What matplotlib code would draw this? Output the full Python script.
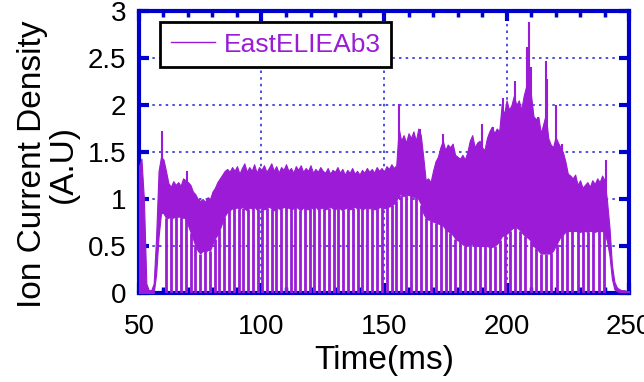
import matplotlib
matplotlib.use("Agg")
import matplotlib.pyplot as plt
import numpy as np
from matplotlib.lines import Line2D
from matplotlib.ticker import MultipleLocator

plt.rcParams['font.family'] = ['Liberation Sans', 'DejaVu Sans']

# sampled band of the probe signal, 1 ms steps from 50 to 250 ms
t_band = np.arange(50, 251)
band_hi = [
    1.35, 1.43, 1.00, 0.10, 0.03, 0.03, 0.10, 0.60, 1.30, 1.45,  # 50
    1.42, 1.30, 1.17, 1.13, 1.19, 1.15, 1.18, 1.14, 1.22, 1.20,  # 60
    1.18, 1.15, 1.08, 1.05, 1.00, 0.98, 1.00, 0.97, 1.02, 1.00,  # 70
    1.08, 1.12, 1.18, 1.22, 1.26, 1.30, 1.32, 1.29, 1.34, 1.30,  # 80
    1.35, 1.27, 1.33, 1.38, 1.29, 1.34, 1.30, 1.37, 1.28, 1.34,  # 90
    1.31, 1.36, 1.29, 1.33, 1.38, 1.30, 1.35, 1.28, 1.34, 1.31,  # 100
    1.37, 1.30, 1.33, 1.28, 1.35, 1.31, 1.36, 1.29, 1.33, 1.30,  # 110
    1.36, 1.28, 1.32, 1.29, 1.34, 1.30, 1.28, 1.33, 1.27, 1.31,  # 120
    1.29, 1.34, 1.28, 1.32, 1.26, 1.31, 1.28, 1.33, 1.27, 1.30,  # 130
    1.26, 1.31, 1.28, 1.33, 1.29, 1.32, 1.28, 1.34, 1.30, 1.33,  # 140
    1.29, 1.35, 1.32, 1.37, 1.33, 1.36, 1.75, 1.62, 1.68, 1.60,  # 150
    1.70, 1.65, 1.72, 1.62, 1.75, 1.68, 1.45, 1.20, 1.22, 1.18,  # 160
    1.30, 1.40, 1.45, 1.55, 1.62, 1.52, 1.58, 1.55, 1.59, 1.47,  # 170
    1.45, 1.43, 1.47, 1.42, 1.50, 1.62, 1.68, 1.55, 1.60, 1.62,  # 180
    1.55, 1.52, 1.65, 1.72, 1.77, 1.70, 1.75, 1.72, 2.00, 1.90,  # 190
    2.05, 1.95, 2.00, 2.10, 2.00, 2.05, 1.95, 2.10, 2.20, 2.35,  # 200
    2.10, 1.88, 1.85, 1.87, 1.70, 1.80, 1.90, 1.65, 1.58, 1.55,  # 210
    1.66, 1.60, 1.55, 1.50, 1.40, 1.27, 1.25, 1.22, 1.26, 1.15,  # 220
    1.20, 1.12, 1.15, 1.18, 1.13, 1.20, 1.16, 1.22, 1.18, 1.25,  # 230
    1.20, 0.98, 0.70, 0.30, 0.12, 0.06, 0.04, 0.03, 0.03, 0.02,  # 240
    0.02,
]
band_lo = [
    0.00, 0.00, 0.00, 0.00, 0.00, 0.00, 0.00, 0.20, 0.60, 0.85,
    0.85, 0.80, 0.80, 0.82, 0.80, 0.83, 0.81, 0.82, 0.80, 0.80,
    0.72, 0.65, 0.58, 0.50, 0.45, 0.42, 0.45, 0.43, 0.46, 0.45,
    0.52, 0.58, 0.62, 0.68, 0.75, 0.82, 0.86, 0.88, 0.90, 0.90,
    0.91, 0.89, 0.92, 0.90, 0.88, 0.91, 0.90, 0.92, 0.89, 0.90,
    0.91, 0.89, 0.90, 0.92, 0.90, 0.88, 0.91, 0.90, 0.89, 0.92,
    0.90, 0.91, 0.89, 0.90, 0.92, 0.90, 0.88, 0.91, 0.90, 0.89,
    0.91, 0.90, 0.92, 0.89, 0.90, 0.91, 0.89, 0.90, 0.92, 0.90,
    0.89, 0.91, 0.90, 0.88, 0.90, 0.91, 0.89, 0.90, 0.92, 0.90,
    0.91, 0.89, 0.90, 0.92, 0.90, 0.91, 0.89, 0.90, 0.91, 0.92,
    0.90, 0.91, 0.92, 0.93, 0.95, 0.98, 1.05, 1.05, 1.03, 1.06,
    1.04, 1.05, 1.02, 1.04, 1.00, 0.95, 0.85, 0.80, 0.78, 0.78,
    0.76, 0.75, 0.74, 0.73, 0.72, 0.68, 0.66, 0.64, 0.62, 0.58,
    0.56, 0.55, 0.52, 0.50, 0.50, 0.52, 0.52, 0.50, 0.50, 0.50,
    0.50, 0.50, 0.50, 0.49, 0.49, 0.50, 0.52, 0.55, 0.60, 0.62,
    0.63, 0.65, 0.68, 0.70, 0.70, 0.68, 0.65, 0.62, 0.60, 0.58,
    0.55, 0.50, 0.48, 0.45, 0.42, 0.42, 0.42, 0.42, 0.42, 0.45,
    0.50, 0.55, 0.60, 0.62, 0.65, 0.66, 0.66, 0.66, 0.66, 0.66,
    0.65, 0.66, 0.66, 0.65, 0.66, 0.66, 0.65, 0.66, 0.66, 0.66,
    0.64, 0.55, 0.40, 0.15, 0.04, 0.02, 0.01, 0.01, 0.01, 0.01,
    0.01,
]

# times where the signal drops to zero (ELM-like dips)
dip_t = [
    61.2, 63.1, 65.2, 67.1, 69.0, 71.1, 73.0, 75.0, 77.1, 78.9,
    80.9, 82.8, 84.8, 86.9, 88.8, 90.7, 92.6, 94.6, 96.5, 98.4,
    100.3, 102.3, 104.1, 106.1, 108.0, 110.0, 111.9, 113.8, 115.8, 117.7,
    119.6, 121.6, 123.5, 125.5, 127.4, 129.4, 131.4, 133.3, 135.3, 137.3,
    139.2, 141.2, 143.2, 145.2, 147.1, 149.1, 151.1, 153.1, 155.0, 157.1,
    159.1, 161.0, 163.0, 165.1, 167.1, 169.1, 171.1, 173.1, 175.1, 177.1,
    179.1, 181.0, 183.0, 185.0, 187.0, 189.1, 191.1, 193.1, 195.1, 197.2,
    199.3, 201.3, 203.4, 205.5, 207.6, 209.8, 211.9, 214.0, 216.2, 218.3,
    220.4, 222.6, 224.7, 226.9, 229.0, 231.2, 233.3, 235.4, 237.6, 239.7,
]

# isolated spikes above the band
spike_t = [59.3, 69.4, 156.2, 164.7, 174.2, 190.1, 194.6, 198.7, 203.4,
           208.2, 209.1, 210.0, 213.0, 216.0, 216.4, 220.2, 222.5, 240.6]
spike_v = [1.72, 1.30, 2.01, 1.75, 1.69, 1.80, 1.77, 2.07, 2.26,
           2.62, 2.88, 2.40, 1.87, 2.47, 2.28, 2.00, 1.59, 1.42]

purple = '#9b1bd6'
blue = '#0000cc'

fig = plt.figure(figsize=(6.44, 3.82), dpi=100)
ax = fig.add_axes([0.2158, 0.233, 0.761, 0.738])

dip_top = np.interp(dip_t, t_band, band_lo)
ax.vlines(dip_t, 0, dip_top, color=purple, lw=2.0, zorder=3)
ax.fill_between(t_band, band_lo, band_hi, color=purple, lw=0.8,
                edgecolor=purple, zorder=3)
ax.vlines(spike_t, 1.0, spike_v, color=purple, lw=1.5, zorder=3)

ax.set_xlim(50, 250)
ax.set_ylim(0, 3)
ax.set_xticks([50, 100, 150, 200, 250])
ax.xaxis.set_minor_locator(MultipleLocator(10))
ax.set_yticks([0, 0.5, 1, 1.5, 2, 2.5, 3])
ax.set_yticklabels(['0', '0.5', '1', '1.5', '2', '2.5', '3'])

ax.set_axisbelow(True)
ax.grid(True, which='major', color='#3030dd', ls=(0, (1.5, 2.5)), lw=1.2)

for s in ax.spines.values():
    s.set_color(blue)
    s.set_linewidth(3)
ax.tick_params(which='both', direction='in', top=True, right=True,
               color=blue, labelsize=20)
ax.tick_params(which='major', length=7, width=3)
ax.tick_params(which='minor', length=4, width=2.5)
ax.tick_params(axis='x', which='major', pad=15)
ax.tick_params(axis='y', which='major', pad=9)

ax.set_xlabel('Time(ms)', fontsize=24, labelpad=4)
fig.text(0.075, 0.57, 'Ion Current Density\n(A.U)', rotation=90,
         fontsize=24, ha='center', va='center', linespacing=1.0)

handle = Line2D([], [], color=purple, lw=1)
leg = ax.legend([handle], ['EastELIEAb3'], loc='upper left',
                bbox_to_anchor=(0.043, 0.961), borderaxespad=0,
                fontsize=19, fancybox=False, framealpha=1,
                edgecolor='black', handlelength=1.7, handletextpad=0.3,
                borderpad=0.4, labelcolor=purple)
leg.get_frame().set_linewidth(2)

plt.savefig('out.png', dpi=100)
